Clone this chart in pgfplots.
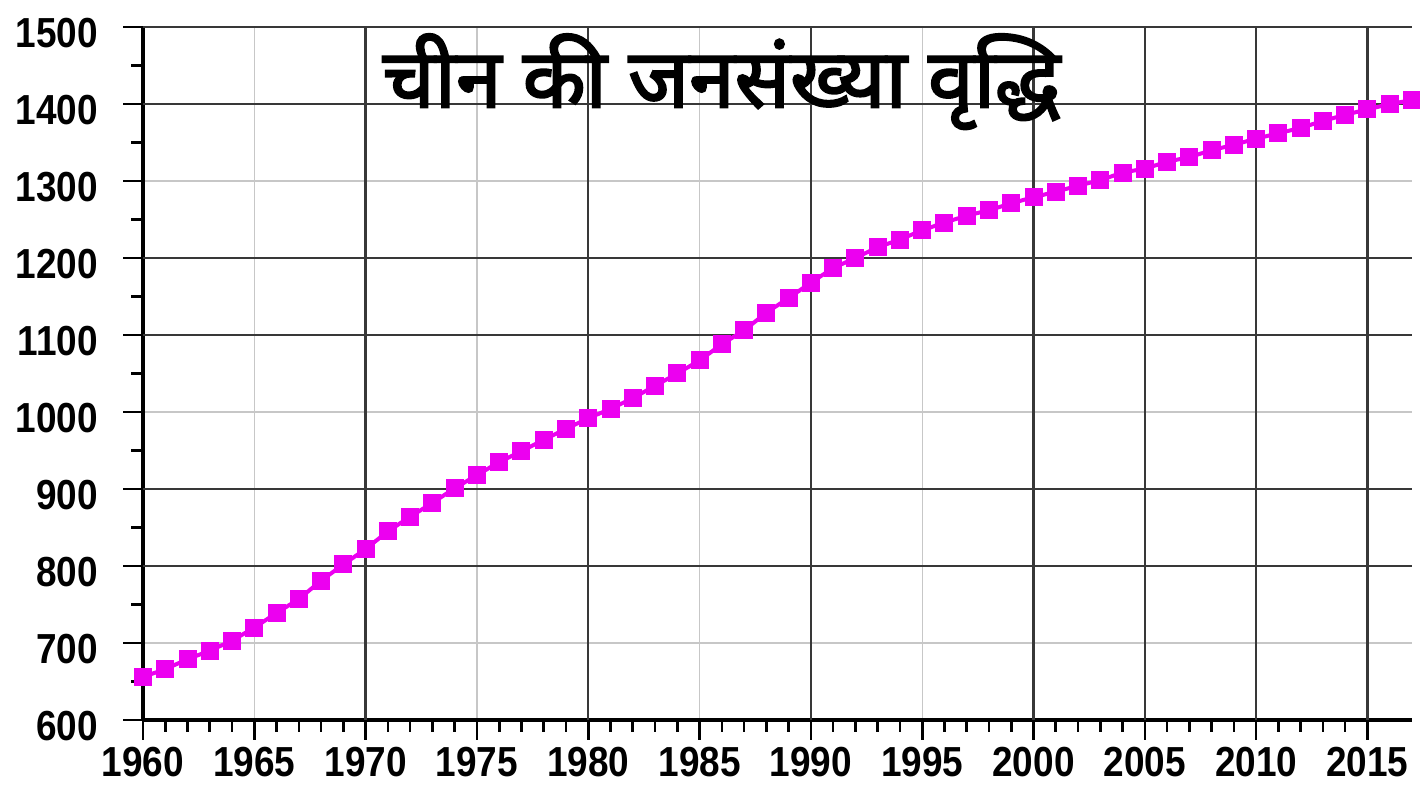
\documentclass[border=0pt]{standalone}
\usepackage{pgfplots}
\pgfplotsset{compat=1.18}
\usepackage{fontspec}
\setmainfont{Liberation Sans}[FakeStretch=0.88]
\newfontfamily\devfont[Script=Devanagari, FakeBold=2.5]{Noto Sans}
\definecolor{mag}{RGB}{236,0,240}
\pgfplotstableread{
year pop
1960 656
1961 666
1962 679
1963 690
1964 703
1965 720
1966 739
1967 757
1968 781
1969 802
1970 822
1971 845
1972 864
1973 882
1974 901
1975 918
1976 935
1977 949
1978 964
1979 978
1980 992
1981 1004
1982 1018
1983 1034
1984 1050
1985 1067
1986 1088
1987 1106
1988 1129
1989 1148
1990 1168
1991 1187
1992 1200
1993 1214
1994 1224
1995 1236
1996 1246
1997 1255
1998 1262
1999 1271
2000 1279
2001 1286
2002 1294
2003 1301
2004 1311
2005 1316
2006 1325
2007 1331
2008 1340
2009 1347
2010 1355
2011 1362
2012 1369
2013 1378
2014 1386
2015 1393
2016 1400
2017 1405
}\popdata
\begin{document}
\begin{tikzpicture}
\begin{axis}[
  at={(0,0)}, anchor=south west,
  scale only axis, width=634.5pt, height=346.5pt,
  xmin=1960, xmax=2017, ymin=600, ymax=1500,
  axis x line*=bottom, axis y line*=left,
  axis line style={line width=1.6pt, black, -},
  xtick={1960,1965,...,2015}, minor x tick num=4,
  ytick={600,700,...,1500}, minor y tick num=1,
  tick align=outside, major tick length=10pt, minor tick length=6pt,
  tick style={black, line width=1.3pt},
  grid=major, major grid style={black!22, line width=0.7pt},
  extra x ticks={1970,1980,1990,2000,2005,2010,2015},
  extra x tick labels={},
  extra y ticks={800,900,1100,1200,1400,1500},
  extra y tick labels={},
  extra tick style={grid=major, major grid style={black!78, line width=1.2pt}},
  /pgf/number format/assume math mode=true,
  /pgf/number format/1000 sep={},
  tick label style={font=\bfseries\fontsize{21}{21}\selectfont},
  yticklabel style={xshift=-9pt, yshift=-3pt},
  xticklabel style={yshift=-0.3pt},
  clip=false,
]
\addplot[mag, line width=2pt, mark=square*, mark size=3.5pt, mark options={solid, fill=mag, draw=mag}] table[x=year, y=pop] {\popdata};
\node[anchor=base] at (rel axis cs:0.456,0.884) {\devfont\bfseries\fontsize{41}{41}\selectfont चीन की जनसंख्या वृद्धि};
\end{axis}
\pgfresetboundingbox
\path[use as bounding box] (-71.5pt,-33.5pt) rectangle (638.5pt,360pt);
\end{tikzpicture}
\end{document}
